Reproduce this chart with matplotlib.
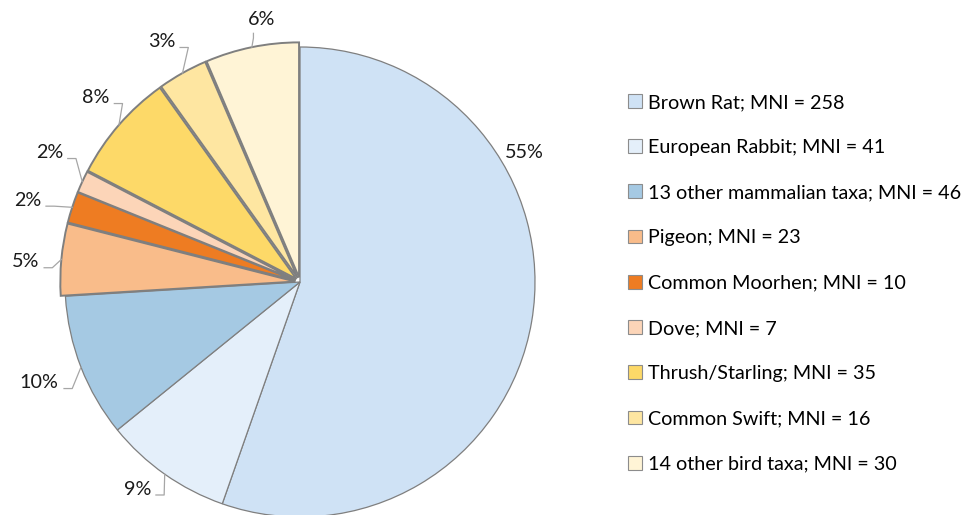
import numpy as np
import matplotlib.pyplot as plt

# ── Données ──────────────────────────────────────────────
taxa = ["Brown Rat", "European Rabbit", "13 other mammalian taxa", "Pigeon",
        "Common Moorhen", "Dove", "Thrush/Starling", "Common Swift",
        "14 other bird taxa"]
mni = [258, 41, 46, 23, 10, 7, 35, 16, 30]
is_bird = [False, False, False, True, True, True, True, True, True]

couleurs = ["#CFE2F5", "#E4EFFA", "#A5C9E3", "#F9BC8A", "#EE7C22",
            "#FCD5B8", "#FDD968", "#FEE6A1", "#FFF4D6"]

# placement des étiquettes : angle (degrés) et distance relative au rayon
angle_label = [30.0, -128.1, -158.9, 175.8, 163.3, 152.7, 137.9, 119.9, 98.3]
dist_label = [1.10, 1.12, 1.19, 1.17, 1.21, 1.20, 1.17, 1.18, 1.13]

plt.rcParams["font.family"] = ["Lato", "DejaVu Sans"]
FS = 14.2

W, H = 972, 515
fig = plt.figure(figsize=(W / 100, H / 100), dpi=100)

R = 235.0
cx, cy = 300.0, H - 282.0
L = 1.3
ax = fig.add_axes([(cx - L * R) / W, (cy - L * R) / H, 2 * L * R / W, 2 * L * R / H])

explode = [0.02 if b else 0.0 for b in is_bird]
wedges, _ = ax.pie(mni, colors=couleurs, startangle=90, counterclock=False,
                   explode=explode, radius=1.0,
                   wedgeprops=dict(edgecolor="#7F7F7F", linewidth=0.9))
# pie() impose ses propres limites : on les remet après
ax.set_xlim(-L, L)
ax.set_ylim(-L, L)
ax.set_aspect("equal")
ax.axis("off")

for w, b in zip(wedges, is_bird):
    if b:
        w.set_linewidth(1.4)
    w.set_clip_on(False)

total = sum(mni)
for i, w in enumerate(wedges):
    pct = f"{round(100 * mni[i] / total):.0f}%"
    mid = np.deg2rad((w.theta1 + w.theta2) / 2)
    ex = explode[i]
    a = np.deg2rad(angle_label[i])
    d = dist_label[i]
    lx = d * np.cos(a)
    ly = d * np.sin(a)
    ax.text(lx, ly, pct, ha="center", va="center", fontsize=FS, color="#1a1a1a")
    if i == 0:
        continue
    ex_x, ex_y = (1.0 + ex) * np.cos(mid), (1.0 + ex) * np.sin(mid)
    if i == 8:
        # étiquette du haut : trait vertical
        x0 = lx - 0.035
        ax.plot([x0, x0, ex_x], [ly - 0.06, ly - 0.08, ex_y],
                color="#A6A6A6", lw=0.9, clip_on=False)
        continue
    demi = 0.028 * len(pct) + 0.012
    p1 = lx + demi + 0.01
    p2 = p1 + 0.035
    ax.plot([p1, p2, ex_x], [ly - 0.025, ly - 0.025, ex_y],
            color="#A6A6A6", lw=0.9, clip_on=False)

labels_leg = [f"{t}; MNI = {m}" for t, m in zip(taxa, mni)]
leg = fig.legend(wedges, labels_leg, loc="upper left",
                 bbox_to_anchor=(620 / W, 1 - 86 / H), frameon=False,
                 fontsize=FS, handlelength=0.7, handleheight=0.7,
                 handletextpad=0.33, labelspacing=1.43, borderaxespad=0)
for h in leg.legend_handles:
    h.set_edgecolor("#8C8C8C")
    h.set_linewidth(0.8)

fig.savefig("out.png", dpi=100)
